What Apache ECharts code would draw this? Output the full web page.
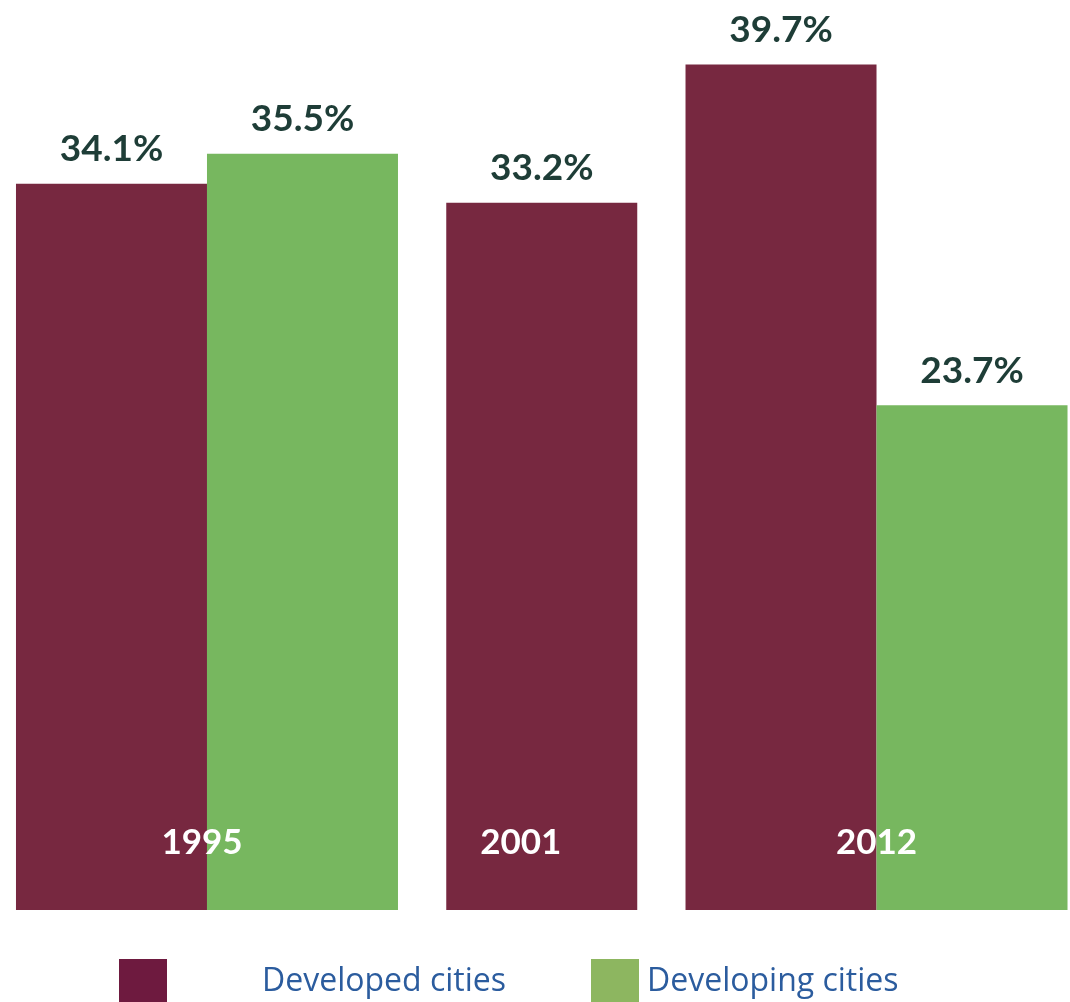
<!DOCTYPE html>
<html>
<head>
<meta charset="utf-8">
<script src="https://cdn.jsdelivr.net/npm/echarts@6/dist/echarts.min.js"></script>
<style>
html,body{margin:0;padding:0;background:#fff;}
#chart{width:1070px;height:1002px;}
</style>
</head>
<body>
<div id="chart"></div>
<script>
var categories = ['1995', '2001', '2012'];
var developedPaired = [34.1, '-', 39.7];
var developingPaired = [35.5, '-', 23.7];
var developedSingle = ['-', 33.2, '-'];
var seriesNames = ['Developed cities', 'Developing cities'];

var chart = echarts.init(document.getElementById('chart'));
var valueLabel = {
  show: true,
  position: 'top',
  distance: 16,
  formatter: '{c}%',
  color: '#1e3d37',
  fontFamily: 'Lato',
  fontWeight: 'bold',
  fontSize: 37
};
var option = {
  backgroundColor: '#ffffff',
  animation: false,
  grid: {left: 39.6, right: 26.1, top: 58, bottom: 92, containLabel: false},
  xAxis: [{
    type: 'category',
    data: categories,
    z: 10,
    axisLine: {show: false},
    axisTick: {show: false},
    axisLabel: {
      inside: true,
      margin: 50,
      color: '#ffffff',
      fontFamily: 'Lato',
      fontWeight: 'bold',
      fontSize: 35,
      formatter: function (v) { return '{y' + v + '|' + v + '}'; },
      rich: {
        y1995: {color: '#fff', fontFamily: 'Lato', fontWeight: 'bold', fontSize: 35, padding: [0, 10, 0, 0]},
        y2001: {color: '#fff', fontFamily: 'Lato', fontWeight: 'bold', fontSize: 35, padding: [0, 42, 0, 0]},
        y2012: {color: '#fff', fontFamily: 'Lato', fontWeight: 'bold', fontSize: 35}
      }
    }
  }, {
    type: 'category',
    data: categories,
    show: false
  }],
  yAxis: {
    type: 'value',
    min: 0,
    max: 40,
    show: false,
    splitLine: {show: false}
  },
  legend: [{
    data: [{name: seriesNames[0], itemStyle: {color: '#6e1a3f'}}],
    left: 119,
    top: 959,
    padding: 0,
    itemWidth: 48,
    itemHeight: 46,
    icon: 'rect',
    selectedMode: false,
    textStyle: {fontFamily: 'Open Sans', fontSize: 32, color: '#2b5c9e', padding: [8, 0, 0, 90]}
  }, {
    data: [{name: seriesNames[1], itemStyle: {color: '#8db660'}}],
    left: 591,
    top: 959,
    padding: 0,
    itemWidth: 48,
    itemHeight: 46,
    icon: 'rect',
    selectedMode: false,
    textStyle: {fontFamily: 'Open Sans', fontSize: 32, color: '#2b5c9e', padding: [8, 0, 0, 3]}
  }],
  series: [{
    name: seriesNames[0],
    type: 'bar',
    xAxisIndex: 0,
    data: developedPaired,
    barWidth: 191,
    barGap: 0,
    clip: false,
    itemStyle: {color: '#772840'},
    label: valueLabel
  }, {
    name: seriesNames[1],
    type: 'bar',
    xAxisIndex: 0,
    data: developingPaired,
    barWidth: 191,
    barGap: 0,
    clip: false,
    itemStyle: {color: '#77b75f'},
    label: valueLabel
  }, {
    name: seriesNames[0],
    type: 'bar',
    xAxisIndex: 1,
    data: developedSingle,
    barWidth: 191,
    clip: false,
    itemStyle: {color: '#772840'},
    label: valueLabel
  }]
};
chart.setOption(option);
</script>
</body>
</html>
